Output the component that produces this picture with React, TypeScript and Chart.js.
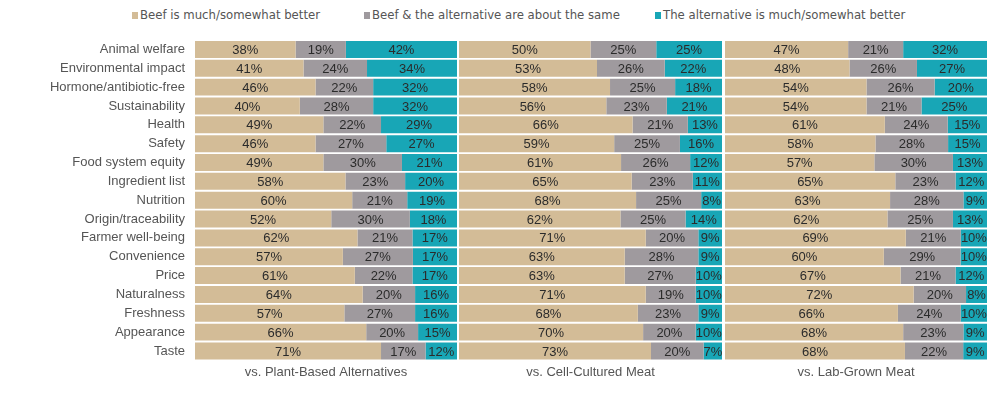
import React, { useEffect, useRef } from "react";
import { Chart, registerables } from "chart.js";

Chart.register(...registerables);

const categories = [
  "Animal welfare",
  "Environmental impact",
  "Hormone/antibiotic-free",
  "Sustainability",
  "Health",
  "Safety",
  "Food system equity",
  "Ingredient list",
  "Nutrition",
  "Origin/traceability",
  "Farmer well-being",
  "Convenience",
  "Price",
  "Naturalness",
  "Freshness",
  "Appearance",
  "Taste",
];

const seriesNames = [
  "Beef is much/somewhat better",
  "Beef & the alternative are about the same",
  "The alternative is much/somewhat better",
];

const panelTitles = ["vs. Plant-Based Alternatives", "vs. Cell-Cultured Meat", "vs. Lab-Grown Meat"];

// vs. Plant-Based Alternatives
const plantBeefBetter = [38, 41, 46, 40, 49, 46, 49, 58, 60, 52, 62, 57, 61, 64, 57, 66, 71];
const plantSame = [19, 24, 22, 28, 22, 27, 30, 23, 21, 30, 21, 27, 22, 20, 27, 20, 17];
const plantAltBetter = [42, 34, 32, 32, 29, 27, 21, 20, 19, 18, 17, 17, 17, 16, 16, 15, 12];

// vs. Cell-Cultured Meat
const cellBeefBetter = [50, 53, 58, 56, 66, 59, 61, 65, 68, 62, 71, 63, 63, 71, 68, 70, 73];
const cellSame = [25, 26, 25, 23, 21, 25, 26, 23, 25, 25, 20, 28, 27, 19, 23, 20, 20];
const cellAltBetter = [25, 22, 18, 21, 13, 16, 12, 11, 8, 14, 9, 9, 10, 10, 9, 10, 7];

// vs. Lab-Grown Meat
const labBeefBetter = [47, 48, 54, 54, 61, 58, 57, 65, 63, 62, 69, 60, 67, 72, 66, 68, 68];
const labSame = [21, 26, 26, 21, 24, 28, 30, 23, 28, 25, 21, 29, 21, 20, 24, 23, 22];
const labAltBetter = [32, 27, 20, 25, 15, 15, 13, 12, 9, 13, 10, 10, 12, 8, 10, 9, 9];

const seriesColors = ["#d3bc97", "#9f9a9e", "#18a6b6"];

const panels = [
  [plantBeefBetter, plantSame, plantAltBetter],
  [cellBeefBetter, cellSame, cellAltBetter],
  [labBeefBetter, labSame, labAltBetter],
];

const FONT = "'Liberation Sans', Arial, sans-serif";
const NARROW = "'Liberation Sans Narrow', 'Arial Narrow', 'DejaVu Sans Condensed', sans-serif";

const valueLabels = {
  id: "valueLabels",
  afterDatasetsDraw(chart: any) {
    const ctx = chart.ctx;
    ctx.save();
    ctx.font = `13px ${FONT}`;
    ctx.fillStyle = "#2b2b2b";
    ctx.textAlign = "center";
    ctx.textBaseline = "middle";
    chart.data.datasets.forEach((ds: any, i: number) => {
      const meta = chart.getDatasetMeta(i);
      meta.data.forEach((bar: any, j: number) => {
        const p = bar.getProps(["x", "base", "y"], true);
        ctx.fillText(ds.rawValues[j] + "%", (p.x + p.base) / 2, p.y + 1);
      });
    });
    ctx.restore();
  },
};

const TOP_PAD = 18;

function buildConfig(idx: number, showY: boolean): any {
  const series = panels[idx];
  const totals = categories.map((_, j) => series[0][j] + series[1][j] + series[2][j]);
  const yScale: any = {
    stacked: true,
    display: showY,
    grid: { display: false, drawTicks: false },
    border: { display: false },
    ticks: {
      color: "#555555",
      font: { size: 13, family: FONT },
      padding: 10,
      autoSkip: false,
    },
  };
  if (showY) {
    yScale.afterFit = (s: any) => {
      s.width = 195;
    };
  }
  return {
    type: "bar",
    data: {
      labels: categories,
      datasets: series.map((vals, k) => ({
        label: seriesNames[k],
        data: vals.map((v, j) => (v / totals[j]) * 100),
        rawValues: vals,
        backgroundColor: seriesColors[k],
        borderWidth: 0,
        categoryPercentage: 0.9,
        barPercentage: 1,
      })),
    },
    options: {
      indexAxis: "y",
      animation: false,
      responsive: false,
      maintainAspectRatio: false,
      layout: { padding: { top: TOP_PAD, left: 0, right: 0, bottom: 0 } },
      plugins: {
        legend: { display: false },
        tooltip: { enabled: false },
      },
      scales: {
        x: {
          stacked: true,
          min: 0,
          max: 100,
          grid: { display: false, drawTicks: false },
          border: { display: false },
          ticks: { display: false },
          title: {
            display: true,
            text: panelTitles[idx],
            color: "#555555",
            font: { size: 13, family: FONT },
            padding: { top: 4, bottom: 0 },
          },
        },
        y: yScale,
      },
    },
    plugins: [valueLabels],
  };
}

function Panel({ idx, left, width, showY }: { idx: number; left: number; width: number; showY: boolean }) {
  const ref = useRef<HTMLCanvasElement | null>(null);
  useEffect(() => {
    if (!ref.current) return;
    const chart = new Chart(ref.current, buildConfig(idx, showY));
    return () => chart.destroy();
  }, [idx, showY]);
  return (
    <canvas
      ref={ref}
      width={width}
      height={358}
      style={{ position: "absolute", left, top: 40 - TOP_PAD, width, height: 358 }}
    />
  );
}

const legendLefts = [132, 364, 655];

export default function App() {
  return (
    <div
      style={{
        position: "fixed",
        left: 0,
        top: 0,
        width: 1000,
        height: 397,
        background: "#ffffff",
        overflow: "hidden",
      }}
    >
      {seriesNames.map((name, k) => (
        <div
          key={name}
          style={{
            position: "absolute",
            left: legendLefts[k],
            top: 5,
            height: 18,
            display: "flex",
            alignItems: "center",
            fontFamily: NARROW,
            fontSize: 13,
            color: "#555555",
            whiteSpace: "nowrap",
          }}
        >
          <span
            style={{
              display: "inline-block",
              width: 6,
              height: 7,
              background: seriesColors[k],
              marginRight: 2,
              marginTop: 3,
            }}
          />
          {name}
        </div>
      ))}
      <Panel idx={0} left={0} width={457} showY={true} />
      <Panel idx={1} left={459} width={263} showY={false} />
      <Panel idx={2} left={725} width={262} showY={false} />
    </div>
  );
}
